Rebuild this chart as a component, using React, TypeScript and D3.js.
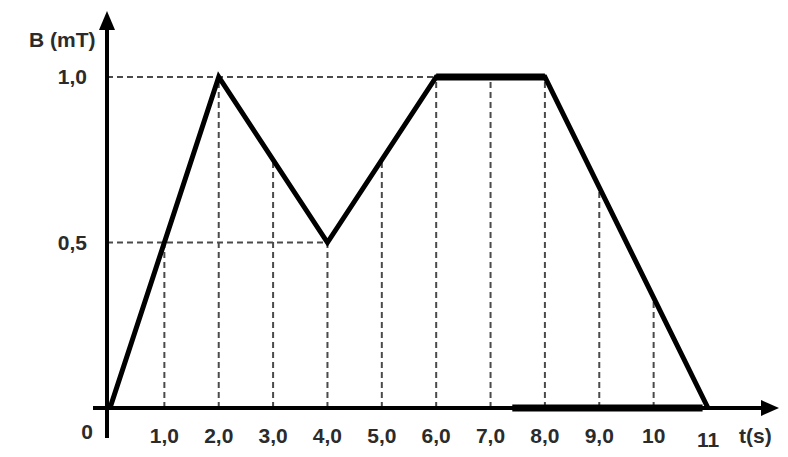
import React from "react";
import * as d3 from "d3";

const times = [0, 2, 4, 6, 8, 11];
const fieldValues = [0, 1, 0.5, 1, 1, 0];
const xTickValues = [1, 2, 3, 4, 5, 6, 7, 8, 9, 10, 11];
const xTickLabels = ["1,0", "2,0", "3,0", "4,0", "5,0", "6,0", "7,0", "8,0", "9,0", "10", "11"];
const yTickValues = [0.5, 1.0];
const yTickLabels = ["0,5", "1,0"];
const xAxisTitle = "t(s)";
const yAxisTitle = "B (mT)";
const originLabel = "0";

const W = 788;
const H = 457;

export default function App() {
  const x = d3.scaleLinear().domain([0, 11]).range([110, 708]);
  const y = d3.scaleLinear().domain([0, 1]).range([408, 77]);
  const valueAt = d3.scaleLinear().domain(times).range(fieldValues);
  const x0 = 107;
  const y0 = y(0);

  const pts: [number, number][] = times.map((t, i) => [x(t), y(fieldValues[i])]);
  const line = d3.line<[number, number]>().x((d) => d[0]).y((d) => d[1]);
  const path = line(pts) || "";
  const flat = line([pts[3], pts[4]]) || "";

  const font = "'Liberation Sans', Arial, sans-serif";
  const txt = "#2b2b2b";
  const dash = "#4a4a4a";
  const fs = 21;

  return (
    <svg width={W} height={H} style={{ position: "absolute", left: 0, top: 0, background: "#fff" }}>
      <rect width={W} height={H} fill="#fff" />
      {/* horizontal dashed guides */}
      <line x1={x0} x2={x(6)} y1={y(1)} y2={y(1)} stroke={dash} strokeWidth={2} strokeDasharray="6,4" />
      <line x1={x0} x2={x(4)} y1={y(0.5)} y2={y(0.5)} stroke={dash} strokeWidth={2} strokeDasharray="6,4" />
      {/* vertical dashed guides */}
      {xTickValues.slice(0, 10).map((t) => (
        <line key={t} x1={x(t)} x2={x(t)} y1={y0} y2={y(valueAt(t))} stroke={dash} strokeWidth={2} strokeDasharray="6,4" />
      ))}
      {/* axes */}
      <line x1={93} x2={765} y1={y0} y2={y0} stroke="#000" strokeWidth={4} />
      <line x1={x(7.4)} x2={x(10.9)} y1={y0} y2={y0} stroke="#000" strokeWidth={7} />
      <path d={`M779,${y0} L761,${y0 - 8} L761,${y0 + 8} Z`} fill="#000" />
      <line x1={x0} x2={x0} y1={438} y2={28} stroke="#000" strokeWidth={4} />
      <path d={`M${x0},11 L${x0 - 8},30 L${x0 + 8},30 Z`} fill="#000" />
      {/* data line */}
      <path d={path} fill="none" stroke="#000" strokeWidth={5} strokeLinejoin="miter" />
      <path d={flat} fill="none" stroke="#000" strokeWidth={7} />
      {/* tick labels */}
      {xTickValues.map((t, i) => (
        <text key={t} x={x(t)} y={t === 11 ? 447 : 443} textAnchor="middle" fontFamily={font} fontWeight="bold" fontSize={fs} fill={txt}>
          {xTickLabels[i]}
        </text>
      ))}
      {yTickValues.map((v, i) => (
        <text key={v} x={87} y={y(v) + 7} textAnchor="end" fontFamily={font} fontWeight="bold" fontSize={fs} fill={txt}>
          {yTickLabels[i]}
        </text>
      ))}
      <text x={93} y={439} textAnchor="end" fontFamily={font} fontWeight="bold" fontSize={fs} fill={txt}>{originLabel}</text>
      <text x={739} y={443} fontFamily={font} fontWeight="bold" fontSize={fs} fill={txt}>{xAxisTitle}</text>
      <text x={29} y={47} fontFamily={font} fontWeight="bold" fontSize={fs} fill={txt}>{yAxisTitle}</text>
    </svg>
  );
}
